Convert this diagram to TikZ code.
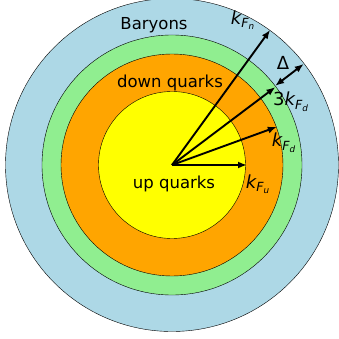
\documentclass[tikz,border=0pt]{standalone}
\usepackage{fontspec}
\setmainfont{DejaVu Sans}
\usepackage{tikz}
\usetikzlibrary{arrows.meta}
\definecolor{baryonblue}{RGB}{173,216,230}
\definecolor{gapgreen}{RGB}{144,238,144}
\definecolor{downorange}{RGB}{255,165,0}
\definecolor{upyellow}{RGB}{255,255,0}
\newcommand{\kFermi}[1]{{\itshape k\textsubscript{F\textsubscript{#1}}}}

\begin{document}
\begin{tikzpicture}[x=1pt,y=1pt,
    momentum/.style={-{Latex[length=9pt,width=7pt]},line width=1.9pt},
    label/.style={font=\fontsize{16.5}{19}\selectfont,inner sep=0pt},
    klabel/.style={font=\fontsize{18}{21}\selectfont,inner sep=0pt}]
        \useasboundingbox (-172,-174) rectangle (167,165);
        % Baryon shell
        \filldraw[fill=baryonblue,draw=black,thin] (0,0) circle (166.5);
        % Gap shell
        \filldraw[fill=gapgreen,draw=black,thin] (0,0) circle (130);
        % Down quark sea
        \filldraw[fill=downorange,draw=black,thin] (0,0) circle (111);
        % Up quark sea
        \filldraw[fill=upyellow,draw=black,thin] (0,0) circle (73.5);
        % Fermi momenta
        \coordinate (O) at (0,0);
        \coordinate (tipu) at (0:75);
        \coordinate (tipd) at (20:111.5);
        \coordinate (tipthree) at (37:129.5);
        \coordinate (gapin) at (37.5:130);
        \coordinate (gapout) at (37.5:166);
        \coordinate (tipn) at (54:167);
        \draw[momentum] (O) -- (tipu);
        \draw[momentum] (O) -- (tipd);
        \draw[momentum] (O) -- (tipthree);
        \draw[momentum] (O) -- (tipn);
        \draw[momentum,{Latex[length=9pt,width=7pt]}-{Latex[length=9pt,width=7pt]}] (gapin) -- (gapout);
        % Labels
        \node[label] (baryons) at (-18,140) {Baryons};
        \node[label] (down) at (-2,82) {down quarks};
        \node[label] (up) at (2,-19) {up quarks};
        \node[klabel] (kn) at (71,145) {\kFermi{n}};
        \node[klabel] (delta) at (111,102) {Δ};
        \node[klabel] (kthree) at (119,63) {3\kFermi{d}};
        \node[klabel] (kd) at (112,22) {\kFermi{d}};
        \node[klabel] (ku) at (86,-19) {\kFermi{u}};
      \end{tikzpicture}
\end{document}
